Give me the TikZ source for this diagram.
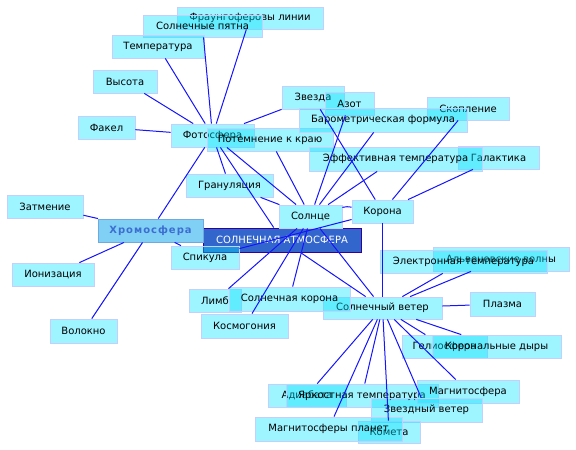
\documentclass[tikz,border=0pt]{standalone}
\usepackage{fontspec}
\setmainfont{DejaVu Sans}
\newfontfamily\chromfont[LetterSpace=10]{DejaVu Sans}
\definecolor{boxfill}{RGB}{0,225,255}
\definecolor{boxline}{RGB}{195,208,255}
\definecolor{edgeblue}{RGB}{20,20,255}
\definecolor{atmfill}{RGB}{51,102,204}
\definecolor{atmline}{RGB}{51,0,153}
\definecolor{chromfill}{RGB}{128,208,245}
\definecolor{chromline}{RGB}{110,170,225}
\definecolor{chromtext}{RGB}{60,110,210}
\begin{document}
\begin{tikzpicture}[x=1pt,y=-1pt,
  box/.style n args={2}{rectangle, fill=boxfill, fill opacity=0.38, text opacity=1,
     draw=boxline, line width=0.8pt, inner sep=0pt,
     minimum width=#1pt, minimum height=#2pt, font=\fontsize{10pt}{12pt}\selectfont},
  atmbox/.style={rectangle, fill=atmfill, draw=atmline, line width=0.9pt, inner sep=0pt,
     minimum width=158pt, minimum height=24pt, text=white, font=\fontsize{10pt}{12pt}\selectfont},
  chrombox/.style={rectangle, fill=chromfill, draw=chromline, line width=0.9pt, inner sep=0pt,
     minimum width=105pt, minimum height=23pt, text=chromtext, font=\fontsize{10pt}{12pt}\chromfont\bfseries},
  edge/.style={draw=edgeblue, line width=1pt}]
\useasboundingbox (0,0) rectangle (576,450);

% central and hub nodes
\node[atmbox] (atm) at (282,240) {СОЛНЕЧНАЯ АТМОСФЕРА};
\node[chrombox] (chromo) at (150.5,230.5) {Хромосфера};

% photosphere group
\node[box={146}{22}] (fraun) at (250,18) {Фраунгоферовы линии};
\node[box={119}{22}] (spots) at (202.5,26) {Солнечные пятна};
\node[box={92}{23}] (temp) at (158,46.5) {Температура};
\node[box={64}{23}] (height) at (125,81.5) {Высота};
\node[box={57}{23}] (fakel) at (106.5,127.5) {Факел};
\node[box={83}{23}] (photo) at (212.5,135.5) {Фотосфера};
\node[box={126}{23}] (limbdark) at (270,139.5) {Потемнение к краю};
\node[box={62}{23}] (star) at (313,97.5) {Звезда};
\node[box={49}{23}] (azot) at (349.5,103.5) {Азот};
\node[box={82}{23}] (cluster) at (468,108.5) {Скопление};
\node[box={168}{24}] (baro) at (383,120) {Барометрическая формула};
\node[box={81}{23}] (galaxy) at (498.5,157.5) {Галактика};
\node[box={173}{24}] (efftemp) at (395.5,159) {Эффективная температура};
\node[box={87}{23}] (gran) at (229.5,185.5) {Грануляция};
\node[box={63}{23}] (sun) at (310.5,216.5) {Солнце};
\node[box={61}{23}] (corona) at (382.5,211.5) {Корона};

% chromosphere group
\node[box={76}{23}] (eclipse) at (45,206.5) {Затмение};
\node[box={82}{23}] (ion) at (53,274.5) {Ионизация};
\node[box={67}{24}] (fiber) at (83.5,331) {Волокно};
\node[box={68}{23}] (spic) at (205,257.5) {Спикула};

% lower middle
\node[box={119}{22}] (wind) at (382.5,308) {Солнечный ветер};
\node[box={52}{23}] (limb) at (215,300.5) {Лимб};
\node[box={121}{24}] (scorona) at (289.5,299) {Солнечная корона};
\node[box={87}{24}] (cosmo) at (244.5,326) {Космогония};

% solar wind group
\node[box={136}{24}] (alfven) at (501,259) {Альвеновские волны};
\node[box={167}{23}] (etemp) at (463.5,261.5) {Электронная температура};
\node[box={65}{24}] (plasma) at (502.5,304) {Плазма};
\node[box={85}{23}] (helio) at (444.5,346.5) {Гелиосфера};
\node[box={129}{23}] (holes) at (496.5,346.5) {Корональные дыры};
\node[box={78}{23}] (adiab) at (307,395.5) {Адиабата};
\node[box={152}{23}] (btemp) at (362,395.5) {Яркостная температура};
\node[box={102}{23}] (magneto) at (468,391.5) {Магнитосфера};
\node[box={111}{24}] (swind) at (426.5,410) {Звездный ветер};
\node[box={62}{22}] (comet) at (389,432) {Комета};
\node[box={147}{24}] (mplanets) at (328.5,429) {Магнитосферы планет};

% connectors
\draw[edge] (photo) -- (fraun);
\draw[edge] (photo) -- (spots);
\draw[edge] (photo) -- (temp);
\draw[edge] (photo) -- (height);
\draw[edge] (photo) -- (fakel);
\draw[edge] (photo) -- (star);
\draw[edge] (photo) -- (chromo);
\draw[edge] (photo) -- (gran);
\draw[edge] (photo) -- (sun);
\draw[edge] (photo) -- (atm);
\draw[edge] (limbdark) -- (sun);
\draw[edge] (gran) -- (sun);
\draw[edge] (azot) -- (sun);
\draw[edge] (baro) -- (sun);
\draw[edge] (efftemp) -- (sun);
\draw[edge] (star) -- (corona);
\draw[edge] (cluster) -- (corona);
\draw[edge] (galaxy) -- (corona);
\draw[edge] (sun) to[bend left=12] (corona);
\draw[edge] (corona) -- (spic);
\draw[edge] (corona) -- (wind);
\draw[edge] (chromo) -- (eclipse);
\draw[edge] (chromo) -- (ion);
\draw[edge] (chromo) -- (fiber);
\draw[edge] (chromo) -- (spic);
\draw[edge] (sun) -- (limb);
\draw[edge] (sun) -- (cosmo);
\draw[edge] (sun) -- (scorona);
\draw[edge] (sun) -- (wind);
\draw[edge] (atm) -- (wind);
\draw[edge] (wind) -- (etemp);
\draw[edge] (wind) -- (alfven);
\draw[edge] (wind) -- (plasma);
\draw[edge] (wind) -- (helio);
\draw[edge] (wind) -- (holes);
\draw[edge] (wind) -- (adiab);
\draw[edge] (wind) -- (btemp);
\draw[edge] (wind) -- (magneto);
\draw[edge] (wind) -- (swind);
\draw[edge] (wind) -- (comet);
\draw[edge] (wind) -- (mplanets);
\end{tikzpicture}
\end{document}
